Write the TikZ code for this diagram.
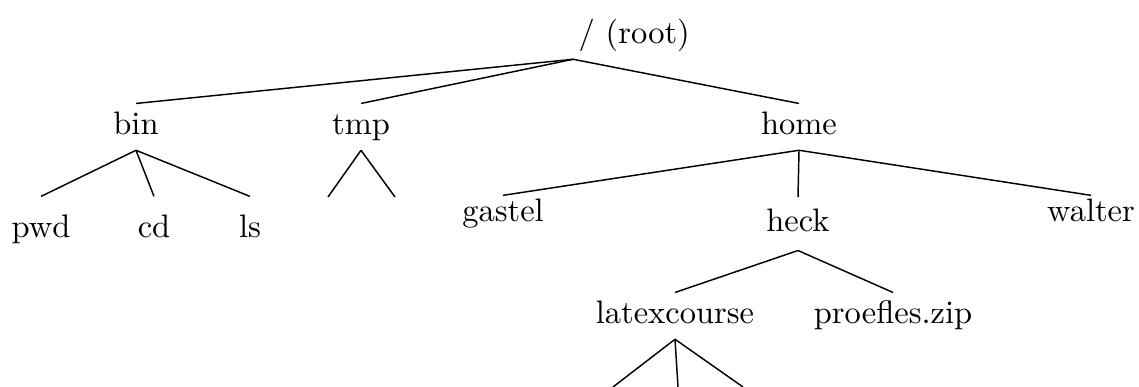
\documentclass[tikz,border=0pt]{standalone}
\usetikzlibrary{positioning}

\begin{document}
\begin{tikzpicture}[x=0.3077pt,y=-0.3077pt,
  dirnode/.style={anchor=base,inner xsep=0pt,inner ysep=2.5pt,text height=7pt,text depth=2pt},
  leafnode/.style={dirnode,inner ysep=#1},
  branch/.style={line width=0.45pt}]
\useasboundingbox (0,0) rectangle (1139,387);
\def\ya{135}%first level baseline
\def\yb{238}%bin children baseline
\def\yc{222}%home children baseline
\def\yd{324}%heck children baseline
\def\yend{387}%loose ends at the bottom

 \node[dirnode,anchor=base west] (root) at (578,44) {/ (root)};
 \coordinate (rootpt) at ([xshift=-1.5pt]root.south west);

 \foreach \name/\x in {bin/136,tmp/361,home/799}
 {
   \node[dirnode] (\name) at (\x,\ya) {\name};
   \draw[branch] (rootpt) -- (\name.north);
 }

 % bin
 \foreach \name/\x in {pwd/41,cd/154,ls/250}
 {
   \node[leafnode=5.6pt] (\name) at (\x,\yb) {\name};
   \draw[branch] (bin.south) -- (\name.north);
 }

 % tmp, no names below
 \foreach \x [count=\i] in {328,395}
 {
   \coordinate (tmp\i) at (\x,197);
   \draw[branch] (tmp.south) -- (tmp\i);
 }

 % home
 \node[leafnode=1pt] (gastel) at (503,\yc) {gastel};
 \node[leafnode=3.5pt] (heck) at (798,232) {heck};
 \node[leafnode=1pt] (walter) at (1091,\yc) {walter};
 \foreach \name in {gastel,heck,walter}
   \draw[branch] (home.south) -- (\name.north);

 \node[dirnode] (latexcourse) at (675,\yd) {latexcourse};
 \node[dirnode] (proefles) at (893,\yd) {proefles.zip};
 \foreach \name in {latexcourse,proefles}
   \draw[branch] (heck.south) -- (\name.north);

 % latexcourse, cut off at the bottom
 \foreach \x [count=\i] in {613,678,743}
 {
   \coordinate (lc\i) at (\x,\yend);
   \draw[branch] (latexcourse.south) -- (lc\i);
 }
\end{tikzpicture}
\end{document}
